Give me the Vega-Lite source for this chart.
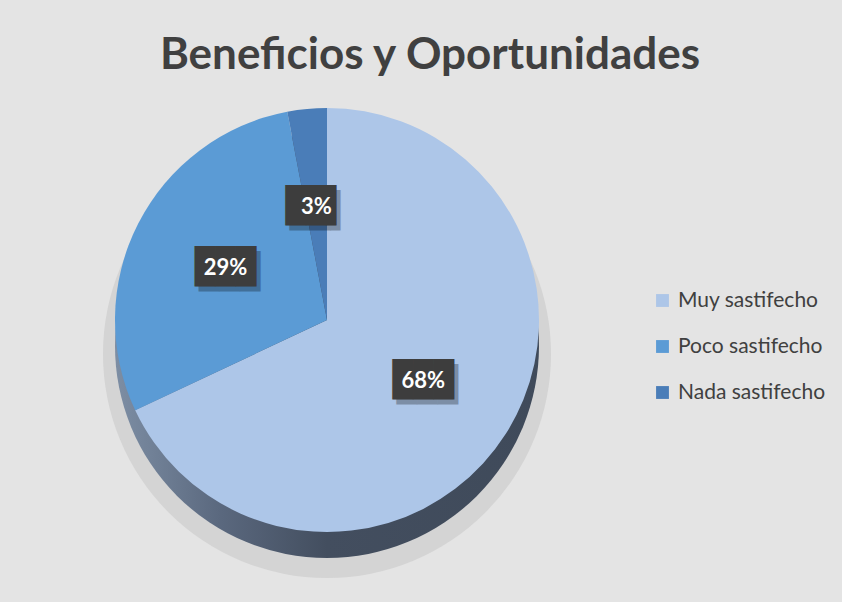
{
  "$schema": "https://vega.github.io/schema/vega-lite/v6.json",
  "autosize": "none",
  "padding": {"left": 0, "top": 80, "right": 188, "bottom": 42},
  "width": 654,
  "height": 480,
  "background": "#e4e4e4",
  "config": {"view": {"stroke": null}},
  "title": {
    "text": "Beneficios y Oportunidades",
    "font": "Lato",
    "fontSize": 44,
    "fontWeight": "bold",
    "color": "#404040",
    "anchor": "middle",
    "dx": 103,
    "offset": 2
  },
  "data": {
    "values": [
      {"cat": "Muy sastifecho", "value": 68, "label": "68%", "idx": 1},
      {"cat": "Poco sastifecho", "value": 29, "label": "29%", "idx": 2},
      {"cat": "Nada sastifecho", "value": 3, "label": "3%", "idx": 3}
    ]
  },
  "layer": [
    {
      "data": {"values": [{"part": "shadow"}]},
      "mark": {"type": "arc", "radius": 224, "theta": 0, "theta2": 6.2832, "yOffset": 34, "color": "#c6c6c6", "opacity": 0.55},
      "encoding": {}
    },
    {
      "data": {"values": [{"part": "side"}]},
      "mark": {
        "type": "arc", "radius": 212, "theta": 0, "theta2": 6.2832, "yOffset": 26,
        "color": {"gradient": "linear", "x1": 0, "x2": 1, "y1": 0, "y2": 0,
          "stops": [
            {"offset": 0, "color": "#7d8ea4"},
            {"offset": 0.25, "color": "#5a687e"},
            {"offset": 0.5, "color": "#434e5f"},
            {"offset": 1, "color": "#3f4a5a"}
          ]}
      },
      "encoding": {}
    },
    {
      "mark": {"type": "arc", "radius": 212},
      "encoding": {
        "theta": {"field": "value", "type": "quantitative", "stack": true},
        "order": {"field": "idx", "type": "quantitative"},
        "color": {
          "field": "cat",
          "type": "nominal",
          "sort": ["Muy sastifecho", "Poco sastifecho", "Nada sastifecho"],
          "scale": {"domain": ["Muy sastifecho", "Poco sastifecho", "Nada sastifecho"], "range": ["#adc6e8", "#5b9bd5", "#4a7db8"]},
          "legend": {
            "orient": "none",
            "legendX": 652,
            "legendY": 210,
            "title": null,
            "symbolType": "square",
            "symbolSize": 165,
            "symbolStrokeWidth": 0,
            "labelFont": "Lato",
            "labelFontSize": 21,
            "labelColor": "#404040",
            "labelOffset": 5,
            "rowPadding": 24
          }
        }
      }
    },
    {
      "mark": {"type": "text", "radius": 114, "font": "DejaVu Sans Mono", "fontSize": 34, "color": "#000000", "opacity": 0.28, "dx": 4, "dy": 5, "align": "center", "baseline": "middle"},
      "encoding": {
        "theta": {"field": "value", "type": "quantitative", "stack": true},
        "order": {"field": "idx", "type": "quantitative"},
        "text": {"condition": {"test": "datum.value < 10", "value": "██▌"}, "value": "███"}
      }
    },
    {
      "mark": {"type": "text", "radius": 114, "font": "DejaVu Sans Mono", "fontSize": 34, "color": "#3d3d3d", "align": "center", "baseline": "middle"},
      "encoding": {
        "theta": {"field": "value", "type": "quantitative", "stack": true},
        "order": {"field": "idx", "type": "quantitative"},
        "text": {"condition": {"test": "datum.value < 10", "value": "██▌"}, "value": "███"}
      }
    },
    {
      "mark": {"type": "text", "radius": 114, "font": "Lato", "fontSize": 22, "fontWeight": "bold", "color": "#ffffff", "align": "center", "baseline": "middle"},
      "encoding": {
        "theta": {"field": "value", "type": "quantitative", "stack": true},
        "order": {"field": "idx", "type": "quantitative"},
        "text": {"field": "label", "type": "nominal"}
      }
    }
  ]
}
